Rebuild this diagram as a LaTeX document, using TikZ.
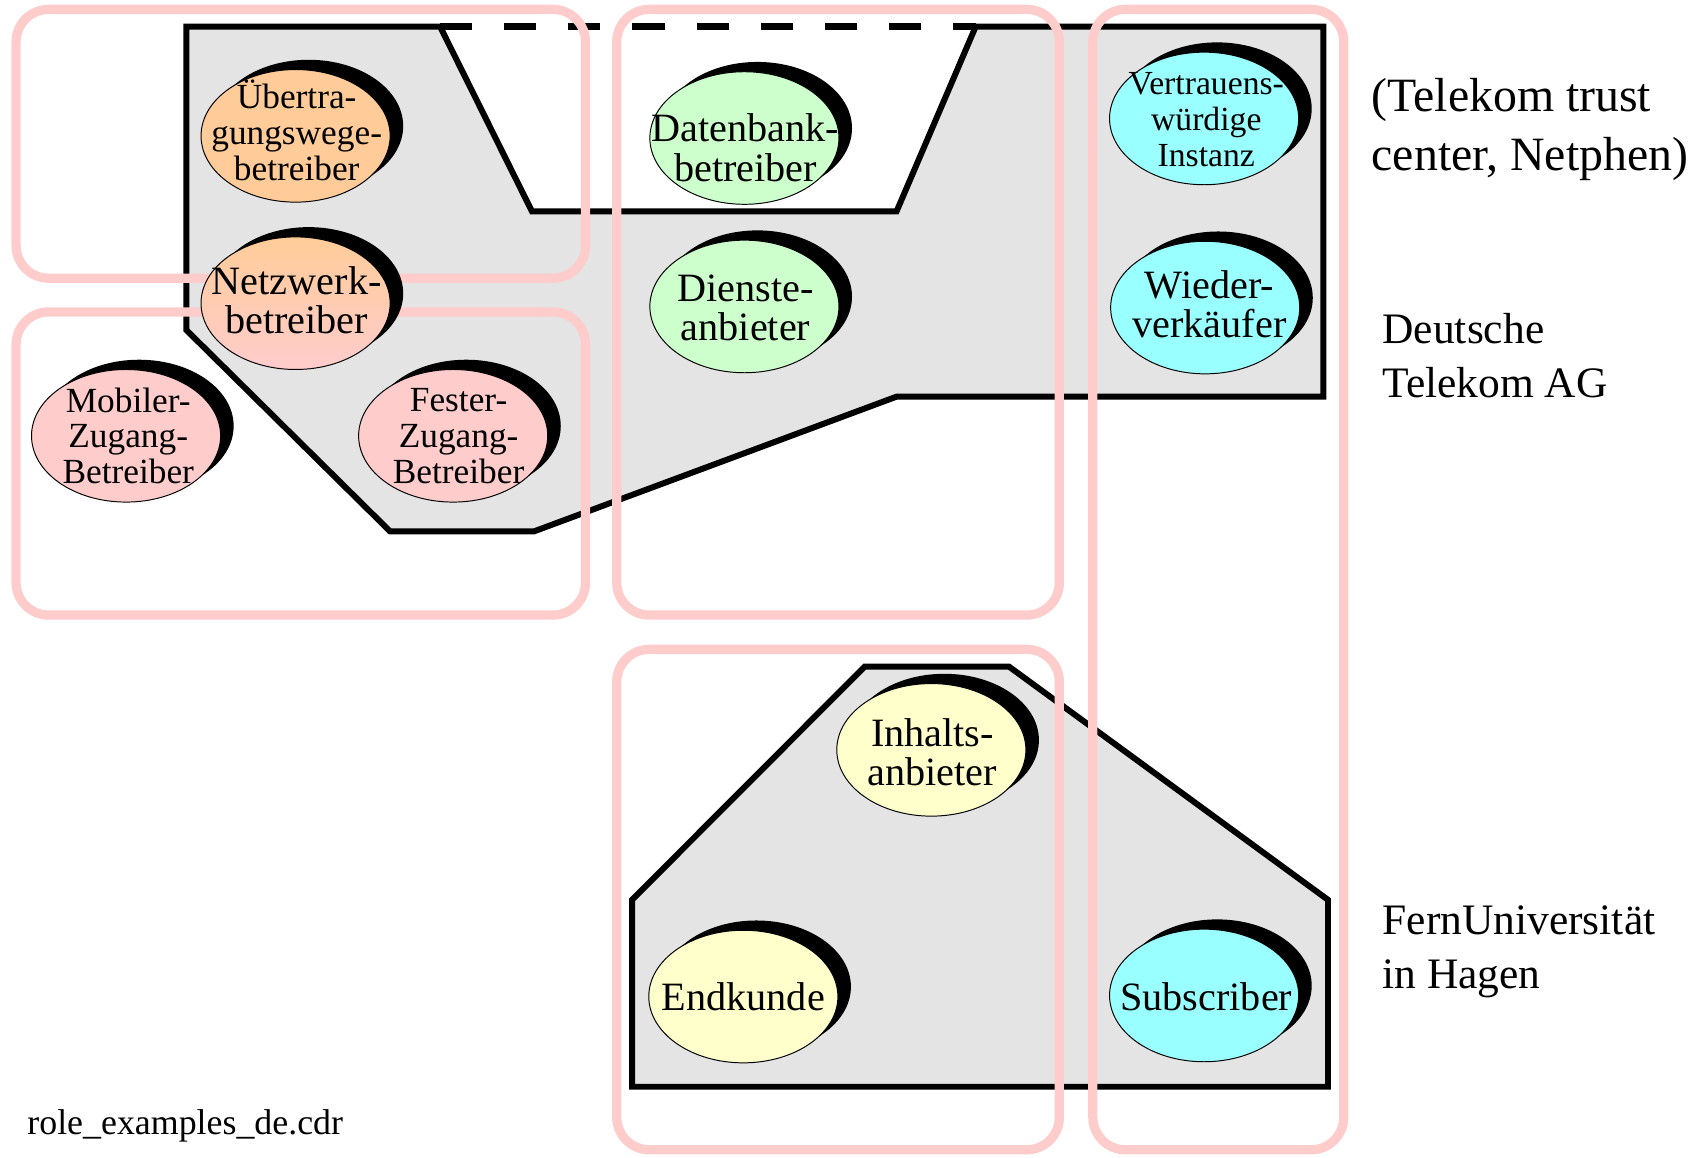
\documentclass[tikz,border=0pt]{standalone}
\usepackage{fontspec}
\setmainfont{Liberation Serif}
\definecolor{areagray}{HTML}{E4E4E4}
\definecolor{rolepink}{HTML}{FFCCCC}
\definecolor{peach}{HTML}{FFCC99}
\definecolor{rosefill}{HTML}{FFCCCC}
\definecolor{mint}{HTML}{CCFFCC}
\definecolor{aqua}{HTML}{99FFFF}
\definecolor{cream}{HTML}{FFFFCC}

% one role: black offset ellipse behind a coloured ellipse
\newcommand\drawrole[2]{%
  \fill[black] (#1) ++(12,-9) ellipse [x radius=87pt, y radius=61pt];
  \path[draw=black, line width=0.9pt, #2] (#1) ellipse [x radius=87pt, y radius=61pt];
}

\begin{document}
\begin{tikzpicture}[x=1pt,y=-1pt,
  orgarea/.style={fill=areagray, draw=black, line width=5.5pt, line join=miter},
  rolegroup/.style={draw=rolepink, line width=8.5pt, rounded corners=30pt},
  roletext/.style={align=center, inner sep=0pt, font=\fontsize{37}{36}\selectfont},
  roletextsmall/.style={align=center, inner sep=0pt, font=\fontsize{32.5}{33}\selectfont},
  orglabel/.style={align=left, inner sep=0pt, anchor=west, font=\fontsize{40}{50}\selectfont},
]
\useasboundingbox (0,0) rectangle (1568,1065);

% organisations
\path[orgarea] (171.5,24.5) -- (405,24.5) -- (489.5,194.5) -- (825,194.5) -- (897.8,24.5)
  -- (1217.8,24.5) -- (1217.8,365) -- (825,365) -- (491.3,489) -- (359,489)
  -- (171.5,303.7) -- cycle;
\coordinate (notchL) at (405,24.5);
\coordinate (notchR) at (897.8,24.5);
\draw[line width=6pt, dash pattern=on 29.5pt off 29.5pt] (notchL) -- (notchR);

\path[orgarea] (795.6,613.5) -- (928.6,613.5) -- (1222,828) -- (1222,1000)
  -- (581.6,1000) -- (581.6,828) -- cycle;

% role groups
\draw[rolegroup] (14.8,8.6) rectangle (538.8,256);
\draw[rolegroup] (14.8,287) rectangle (538.8,566);
\draw[rolegroup] (567.5,8.6) rectangle (974.8,566);
\draw[rolegroup] (567.5,597.5) rectangle (974.8,1058);
\draw[rolegroup] (1005.6,8.6) rectangle (1236.5,1058);

% roles
\coordinate (uew) at (272,125);
\coordinate (netz) at (272,279);
\coordinate (mob) at (116,401);
\coordinate (fest) at (417,401);
\coordinate (db) at (685,127);
\coordinate (dienst) at (685,282);
\coordinate (trust) at (1108,109);
\coordinate (wieder) at (1109,283);
\coordinate (inhalt) at (857,690);
\coordinate (endk) at (684,917);
\coordinate (subs) at (1108,916);

\drawrole{uew}{fill=peach}
\drawrole{netz}{top color=peach, bottom color=rosefill}
\drawrole{mob}{fill=rosefill}
\drawrole{fest}{fill=rosefill}
\drawrole{db}{fill=mint}
\drawrole{dienst}{fill=mint}
\drawrole{trust}{fill=aqua}
\drawrole{wieder}{fill=aqua}
\drawrole{inhalt}{fill=cream}
\drawrole{endk}{fill=cream}
\drawrole{subs}{fill=aqua}

\node[roletextsmall] (uew-t) at (273,120) {Übertra-\\gungswege-\\betreiber};
\node[roletext] (netz-t) at (273,276) {Netzwerk-\\betreiber};
\node[roletextsmall] (mob-t) at (118,401) {Mobiler-\\Zugang-\\Betreiber};
\node[roletextsmall] (fest-t) at (422,401) {Fester-\\Zugang-\\Betreiber};
\node[roletext] (db-t) at (686,136) {Datenbank-\\betreiber};
\node[roletext] (dienst-t) at (686,283) {Dienste-\\anbieter};
\node[roletextsmall, font=\fontsize{31}{33}\selectfont] (trust-t) at (1110,110) {Vertrauens-\\würdige\\Instanz};
\node[roletext] (wieder-t) at (1113,280) {Wieder-\\verkäufer};
\node[roletext] (inhalt-t) at (858,692) {Inhalts-\\anbieter};
\node[roletext] (endk-t) at (684,917) {Endkunde};
\node[roletext] (subs-t) at (1110,917) {Subscriber};

% organisation names
\node[orglabel, font=\fontsize{44}{54}\selectfont] (ttc) at (1262,119) {(Telekom trust\\center, Netphen)};
\node[orglabel] (dtag) at (1272,327) {Deutsche\\Telekom AG};
\node[orglabel] (feu) at (1272,876) {FernUniversität\\in Hagen};

\node[anchor=west, inner sep=0pt, font=\fontsize{33}{36}\selectfont] (file) at (25,1036) {role\_examples\_de.cdr};
\end{tikzpicture}
\end{document}
